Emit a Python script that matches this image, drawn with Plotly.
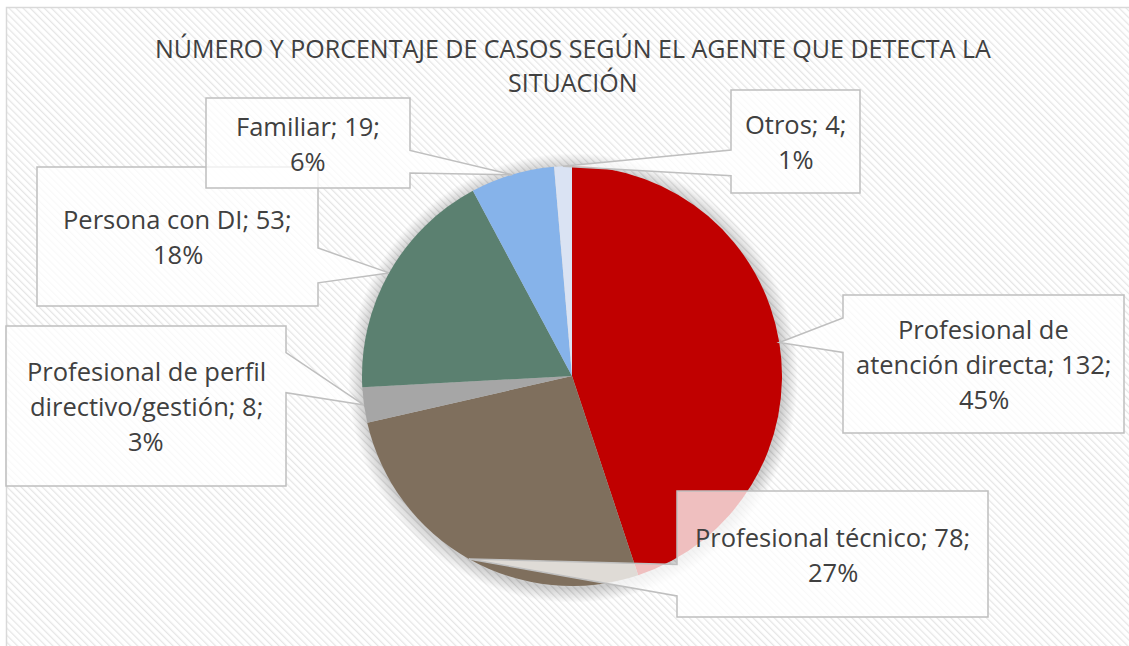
import math
import base64
import textwrap
import plotly.graph_objects as go

# ---------------- data ----------------
categories = [
    "Profesional de atención directa",
    "Profesional técnico",
    "Profesional de perfil directivo/gestión",
    "Persona con DI",
    "Familiar",
    "Otros",
]
values = [132, 78, 8, 53, 19, 4]
colors = ["#C00000", "#7F6F5D", "#A6A6A6", "#5B8070", "#86B3EA", "#DAE3F3"]
title_lines = ["NÚMERO Y PORCENTAJE DE CASOS SEGÚN EL AGENTE QUE DETECTA LA", "SITUACIÓN"]

# ---------------- layout constants ----------------
W, H = 1129, 646
CX, CY, R = 572, 376, 210
# callout boxes (x0, y0, x1, y1) in pixels and wrap widths (chars)
boxes = [
    (843, 295, 1124, 433),
    (677, 491, 988, 617),
    (6, 326, 286, 486),
    (37, 167, 318, 306),
    (206, 98, 410, 188),
    (731, 90, 860, 193),
]
wraps = [22, 24, 21, 19, 13, 9]
LABEL_FONT = "Open Sans"
TITLE_FONT = "Open Sans"
TXT = "#404040"
LINE_SP = 35

total = sum(values)

fig = go.Figure()

# invisible trace to establish a pixel coordinate system
fig.add_trace(go.Scatter(x=[0], y=[0], mode="markers", marker=dict(opacity=0),
                         showlegend=False, hoverinfo="skip"))

fig.add_trace(go.Pie(
    labels=categories, values=values, sort=False, direction="clockwise", rotation=0,
    marker=dict(colors=colors, line=dict(width=0)),
    textinfo="none", hoverinfo="skip", showlegend=False,
    domain=dict(x=[(CX - R) / W, (CX + R) / W], y=[1 - (CY + R) / H, 1 - (CY - R) / H]),
))

shapes = []
# soft shadow/glow behind pie
for k in range(1, 13):
    rr = R + k * 1.2
    shapes.append(dict(type="circle", xref="x", yref="y", layer="below",
                       x0=CX + 1 - rr, x1=CX + 1 + rr, y0=CY + 2 - rr, y1=CY + 2 + rr,
                       fillcolor="rgba(0,0,0,0.014)", line=dict(width=0)))

annotations = []
cum = 0
for cat, v, (x0, y0, x1, y1), wr in zip(categories, values, boxes, wraps):
    mid = (cum + v / 2) / total * 2 * math.pi
    cum += v
    ax = CX + R * math.sin(mid)
    ay = CY - R * math.cos(mid)
    h = y1 - y0
    if ay > (y0 + y1) / 2:
        f1, f2 = 7 / 12, 10 / 12
    else:
        f1, f2 = 2 / 12, 5 / 12
    b1, b2 = y0 + f1 * h, y0 + f2 * h
    if ax < x0:
        path = (f"M{x0},{y0} L{x1},{y0} L{x1},{y1} L{x0},{y1} L{x0},{b2} "
                f"L{ax:.1f},{ay:.1f} L{x0},{b1} Z")
    else:
        path = (f"M{x0},{y0} L{x1},{y0} L{x1},{b1} L{ax:.1f},{ay:.1f} L{x1},{b2} "
                f"L{x1},{y1} L{x0},{y1} Z")
    shapes.append(dict(type="path", xref="x", yref="y", layer="above", path=path,
                       fillcolor="rgba(255,255,255,0.75)",
                       line=dict(color="#BFBFBF", width=1.5)))
    pct = round(v / total * 100)
    lines = textwrap.wrap(f"{cat}; {v}; {pct}%", width=wr)
    cyb = (y0 + y1) / 2
    n = len(lines)
    for i, ln in enumerate(lines):
        annotations.append(dict(
            x=(x0 + x1) / 2, y=cyb + (i - (n - 1) / 2) * LINE_SP, xref="x", yref="y",
            text=ln, showarrow=False, xanchor="center", yanchor="middle",
            font=dict(family=LABEL_FONT, size=25.5, color=TXT)))

for i, t in enumerate(title_lines):
    annotations.append(dict(
        x=573, y=48 + i * 34, xref="x", yref="y", text=t, showarrow=False,
        xanchor="center", yanchor="middle",
        font=dict(family=TITLE_FONT, size=25, color=TXT)))

# hatched background with thin border
svg = (f'<svg xmlns="http://www.w3.org/2000/svg" width="{W}" height="{H}">'
       '<defs><pattern id="p" width="5" height="5" patternUnits="userSpaceOnUse" '
       'patternTransform="rotate(-45)"><rect width="5" height="5" fill="#ffffff"/>'
       '<line x1="0" y1="0" x2="0" y2="5" stroke="#e6e6e6" stroke-width="2.5"/></pattern></defs>'
       f'<rect x="0" y="0" width="{W}" height="{H}" fill="#ffffff"/>'
       f'<rect x="6.5" y="7.5" width="{W}" height="{H}" fill="url(#p)" stroke="#d9d9d9" stroke-width="1.5"/>'
       '</svg>')
src = "data:image/svg+xml;base64," + base64.b64encode(svg.encode("utf-8")).decode("ascii")

fig.update_layout(
    width=W, height=H,
    margin=dict(l=0, r=0, t=0, b=0),
    paper_bgcolor="white", plot_bgcolor="rgba(0,0,0,0)",
    xaxis=dict(range=[0, W], visible=False, domain=[0, 1], fixedrange=True),
    yaxis=dict(range=[H, 0], visible=False, domain=[0, 1], fixedrange=True),
    shapes=shapes, annotations=annotations,
    images=[dict(source=src, xref="paper", yref="paper", x=0, y=1, sizex=1, sizey=1,
                 xanchor="left", yanchor="top", sizing="stretch", layer="below")],
    showlegend=False,
)

fig.write_html("out.html", config={"displayModeBar": False},
               post_script="document.body.style.margin='0';")
